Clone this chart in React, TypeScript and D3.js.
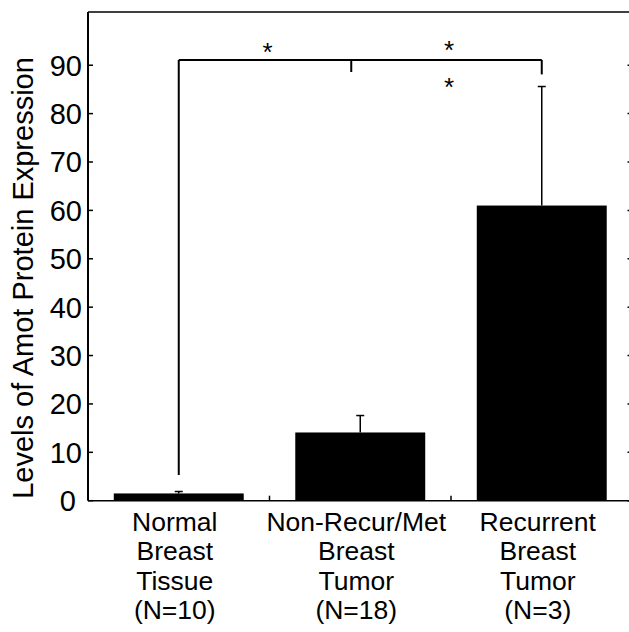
import React from 'react';
import * as d3 from 'd3';

const categories = ['normal', 'nonrecur', 'recurrent'];
const labelLines = [
  ['Normal', 'Breast', 'Tissue', '(N=10)'],
  ['Non-Recur/Met', 'Breast', 'Tumor', '(N=18)'],
  ['Recurrent', 'Breast', 'Tumor', '(N=3)'],
];
const means = [1.5, 14.1, 61.0];
const upperErr = [1.9, 17.6, 85.6];
const yTicks = [0, 10, 20, 30, 40, 50, 60, 70, 80, 90];

// significance bracket: level and leg ends (data units)
const bracketLevel = 91.1;
const bracketLegEnds = [5.3, 88.6, 88.1];
const stars = [
  { between: [0, 1], value: 94.0 },
  { between: [1, 2], value: 94.4 },
  { between: [1, 2], value: 86.8 },
];

const W = 629;
const H = 632;
const font = "Arial, 'Liberation Sans', Helvetica, sans-serif";

export default function App() {
  const left = 88;
  const right = 632.5;
  const top = 12;
  const bottom = 500.7;

  const x = d3.scaleBand<string>()
    .domain(categories)
    .range([left, right])
    .paddingInner(0.284)
    .paddingOuter(0.142);

  const y = d3.scaleLinear().domain([0, 101]).range([bottom, top]);

  const bw = x.bandwidth();
  const cx = (i: number) => (x(categories[i]) as number) + bw / 2;
  const step = x.step();

  const legX = [cx(0), cx(1) - 9, cx(2)];

  return (
    <svg width={W} height={H} style={{ position: 'absolute', left: 0, top: 0 }} fontFamily={font}>
      <rect width={W} height={H} fill="#fff" />

      {/* bars */}
      {means.map((m, i) => (
        <rect key={'b' + i} x={x(categories[i])} y={y(m)} width={bw} height={y(0) - y(m)} fill="#000" />
      ))}

      {/* upper error bars */}
      {upperErr.map((e, i) => (
        <g key={'e' + i} stroke="#000" strokeWidth={1.5}>
          <line x1={cx(i)} x2={cx(i)} y1={y(means[i])} y2={y(e)} />
          <line x1={cx(i) - 4} x2={cx(i) + 4} y1={y(e)} y2={y(e)} />
        </g>
      ))}

      {/* frame */}
      <g stroke="#000" fill="none">
        <line x1={left} x2={left} y1={top} y2={bottom} strokeWidth={2} />
        <line x1={left} x2={right} y1={top} y2={top} strokeWidth={1.5} />
        <line x1={left} x2={right} y1={bottom} y2={bottom} strokeWidth={1.5} />
        <line x1={right} x2={right} y1={top} y2={bottom} strokeWidth={1.5} />
        {yTicks.map(t => (
          <g key={'t' + t}>
            <line x1={left} x2={left + 5} y1={y(t)} y2={y(t)} strokeWidth={1.5} />
            <line x1={right - 5} x2={right} y1={y(t)} y2={y(t)} strokeWidth={1.5} />
          </g>
        ))}
        {[1, 2].map(i => (
          <line key={'xt' + i} x1={left + step * i} x2={left + step * i} y1={bottom} y2={bottom - 5} strokeWidth={1.5} />
        ))}
      </g>

      {/* y tick labels */}
      {yTicks.map(t => (
        <text key={'l' + t} x={t === 0 ? left - 12 : left - 6} y={y(t)} dy="0.36em" textAnchor="end" fontSize={29}>
          {t}
        </text>
      ))}

      {/* y title */}
      <text transform={`translate(33,278) rotate(-90)`} textAnchor="middle" fontSize={29}>
        Levels of Amot Protein Expression
      </text>

      {/* category labels */}
      {labelLines.map((lines, i) => (
        <text key={'c' + i} textAnchor="middle" fontSize={26.5}>
          {lines.map((ln, j) => (
            <tspan key={j} x={cx(i) - 4} y={bottom + 30 + j * 29.5}>{ln}</tspan>
          ))}
        </text>
      ))}

      {/* significance bracket */}
      <g stroke="#000" strokeWidth={2} fill="none">
        <line x1={legX[0]} x2={legX[2]} y1={y(bracketLevel)} y2={y(bracketLevel)} />
        {legX.map((lx, i) => (
          <line key={'leg' + i} x1={lx} x2={lx} y1={y(bracketLevel)} y2={y(bracketLegEnds[i])} />
        ))}
      </g>
      {stars.map((s, i) => (
        <text key={'s' + i} x={(cx(s.between[0]) + cx(s.between[1])) / 2 - 2} y={y(s.value)} dy="0.575em"
          textAnchor="middle" fontSize={26}>*</text>
      ))}
    </svg>
  );
}
